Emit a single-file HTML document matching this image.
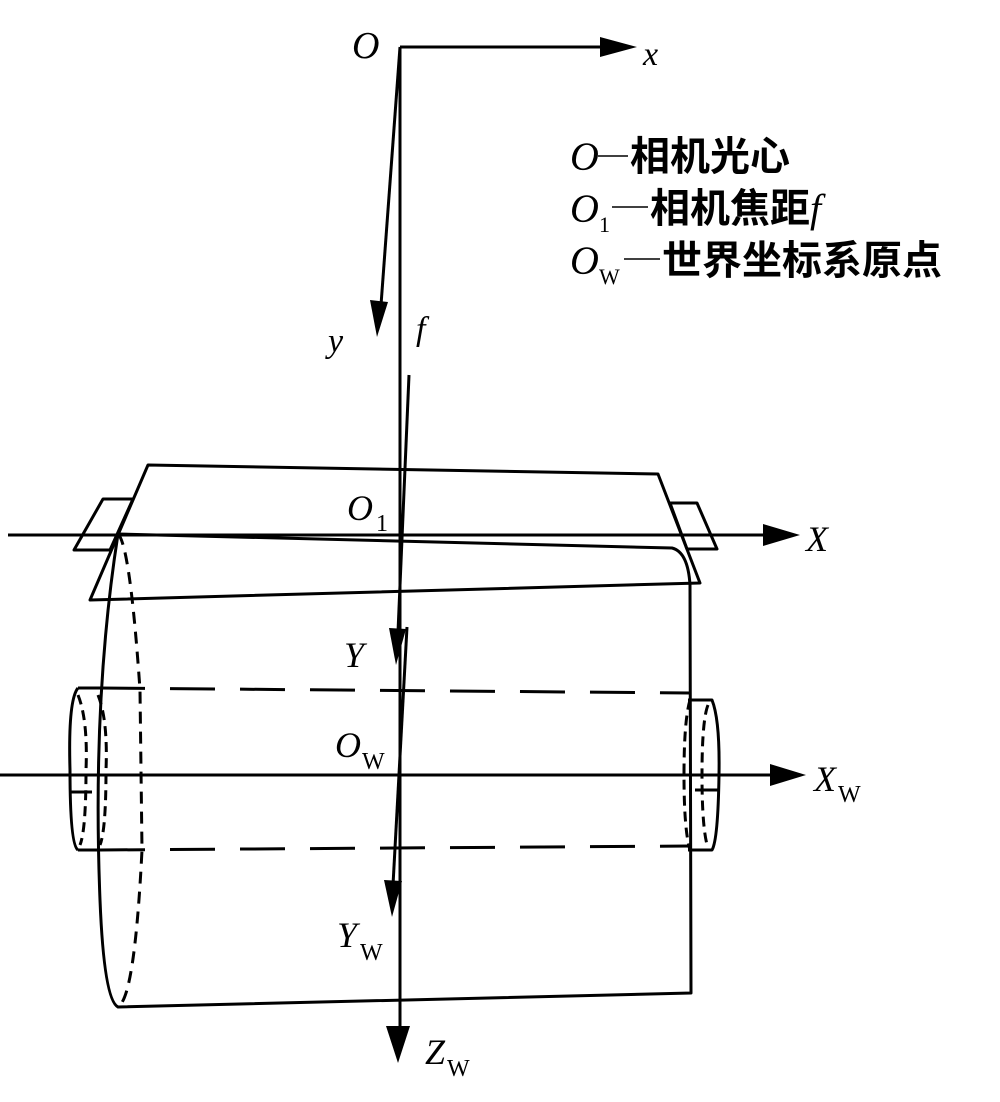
<!DOCTYPE html>
<html><head><meta charset="utf-8"><style>
html,body{margin:0;padding:0;background:#fff}
svg{display:block}
text{font-family:"Liberation Serif","Noto Serif CJK SC",serif;fill:#000}
.i{font-style:italic}
.cn{font-family:"Liberation Serif","Noto Sans CJK SC",sans-serif;font-weight:bold}
</style></head><body>
<svg width="1000" height="1102" viewBox="0 0 1000 1102" xmlns="http://www.w3.org/2000/svg">
<g stroke="#000" stroke-width="3" fill="none" stroke-linejoin="round">
<line x1="400" y1="47" x2="605" y2="47"/>
<line x1="400" y1="47" x2="400" y2="1030"/>
<line x1="400" y1="47" x2="381" y2="305"/>
<line x1="409" y1="375" x2="398" y2="632"/>
<line x1="407" y1="627" x2="393" y2="885"/>
<polygon points="148,465 658,474 700,583 90,600"/>
<polygon points="103,499 133,499 110,550 74,550"/>
<polygon points="670,503 697,503 717,549 687,549"/>
<line x1="8" y1="535" x2="765" y2="535"/>
<path d="M118,534 L672,548 Q688,552 690,585 L691,993 L118,1007 Q104,1000 100,900 Q92,700 118,534"/>
<path d="M118,534 Q130,545 140,690 L142,850 Q135,990 120,1005" stroke-dasharray="12,8"/>
<line x1="100" y1="688" x2="690" y2="693" stroke-dasharray="45,25"/>
<line x1="100" y1="850" x2="690" y2="846" stroke-dasharray="45,25"/>
<path d="M78,688 L100,688 M78,850 L100,850"/>
<path d="M78,688 Q68,700 70,770 Q70,845 78,850"/>
<path d="M78,695 Q88,720 86,770 Q86,830 80,845" stroke-dasharray="10,6"/>
<path d="M98,695 Q108,720 106,770 Q106,830 100,845" stroke-dasharray="10,6"/>
<path d="M70,792 L92,792"/>
<path d="M688,700 L712,700 Q720,720 719,775 Q718,840 712,850 L688,850"/>
<path d="M690,700 Q684,720 684,775 Q684,830 690,850" stroke-dasharray="10,6"/>
<path d="M708,705 Q702,720 702,775 Q702,830 708,848" stroke-dasharray="10,6"/>
<path d="M695,790 L718,790"/>
<line x1="0" y1="775" x2="775" y2="775"/>
<!-- legend dashes -->
<line x1="598" y1="156" x2="628" y2="156" stroke-width="1.5"/>
<line x1="612" y1="207" x2="648" y2="207" stroke-width="1.5"/>
<line x1="624" y1="259" x2="660" y2="259" stroke-width="1.5"/>
</g>
<g fill="#000">
<polygon points="600,37 637,47 600,57"/>
<polygon points="370,300 388,302 377,337"/>
<polygon points="763,524 800,535 763,546"/>
<polygon points="389,628 406,629 396,665"/>
<polygon points="384,880 402,881 392,917"/>
<polygon points="770,764 806,775 770,786"/>
<polygon points="386,1026 410,1026 398,1063"/>
</g>
<text x="352" y="58" font-size="38" class="i">O</text>
<text x="643" y="65" font-size="34" class="i">x</text>
<text x="328" y="352" font-size="34" class="i">y</text>
<text x="416" y="340" font-size="34" class="i">f</text>
<text x="347" y="520" font-size="36" class="i">O</text><text x="376" y="531" font-size="24">1</text>
<text x="806" y="551" font-size="36" class="i">X</text>
<text x="344" y="667" font-size="36" class="i">Y</text>
<text x="335" y="757" font-size="36" class="i">O</text><text x="362" y="769" font-size="24">W</text>
<text x="814" y="791" font-size="36" class="i">X</text><text x="838" y="802" font-size="24">W</text>
<text x="337" y="947" font-size="36" class="i">Y</text><text x="360" y="960" font-size="24">W</text>
<text x="425" y="1064" font-size="36" class="i">Z</text><text x="447" y="1076" font-size="24">W</text>
<text x="570" y="170" font-size="40" class="i">O</text>
<text x="630" y="170" font-size="40" class="cn">相机光心</text>
<text x="570" y="222" font-size="40" class="i">O</text><text x="599" y="232" font-size="22">1</text>
<text x="650" y="222" font-size="40"><tspan class="cn">相机焦距</tspan><tspan class="i">f</tspan></text>
<text x="570" y="274" font-size="40" class="i">O</text><text x="599" y="284" font-size="22">W</text>
<text x="662" y="274" font-size="40" class="cn">世界坐标系原点</text>
</svg>
</body></html>
